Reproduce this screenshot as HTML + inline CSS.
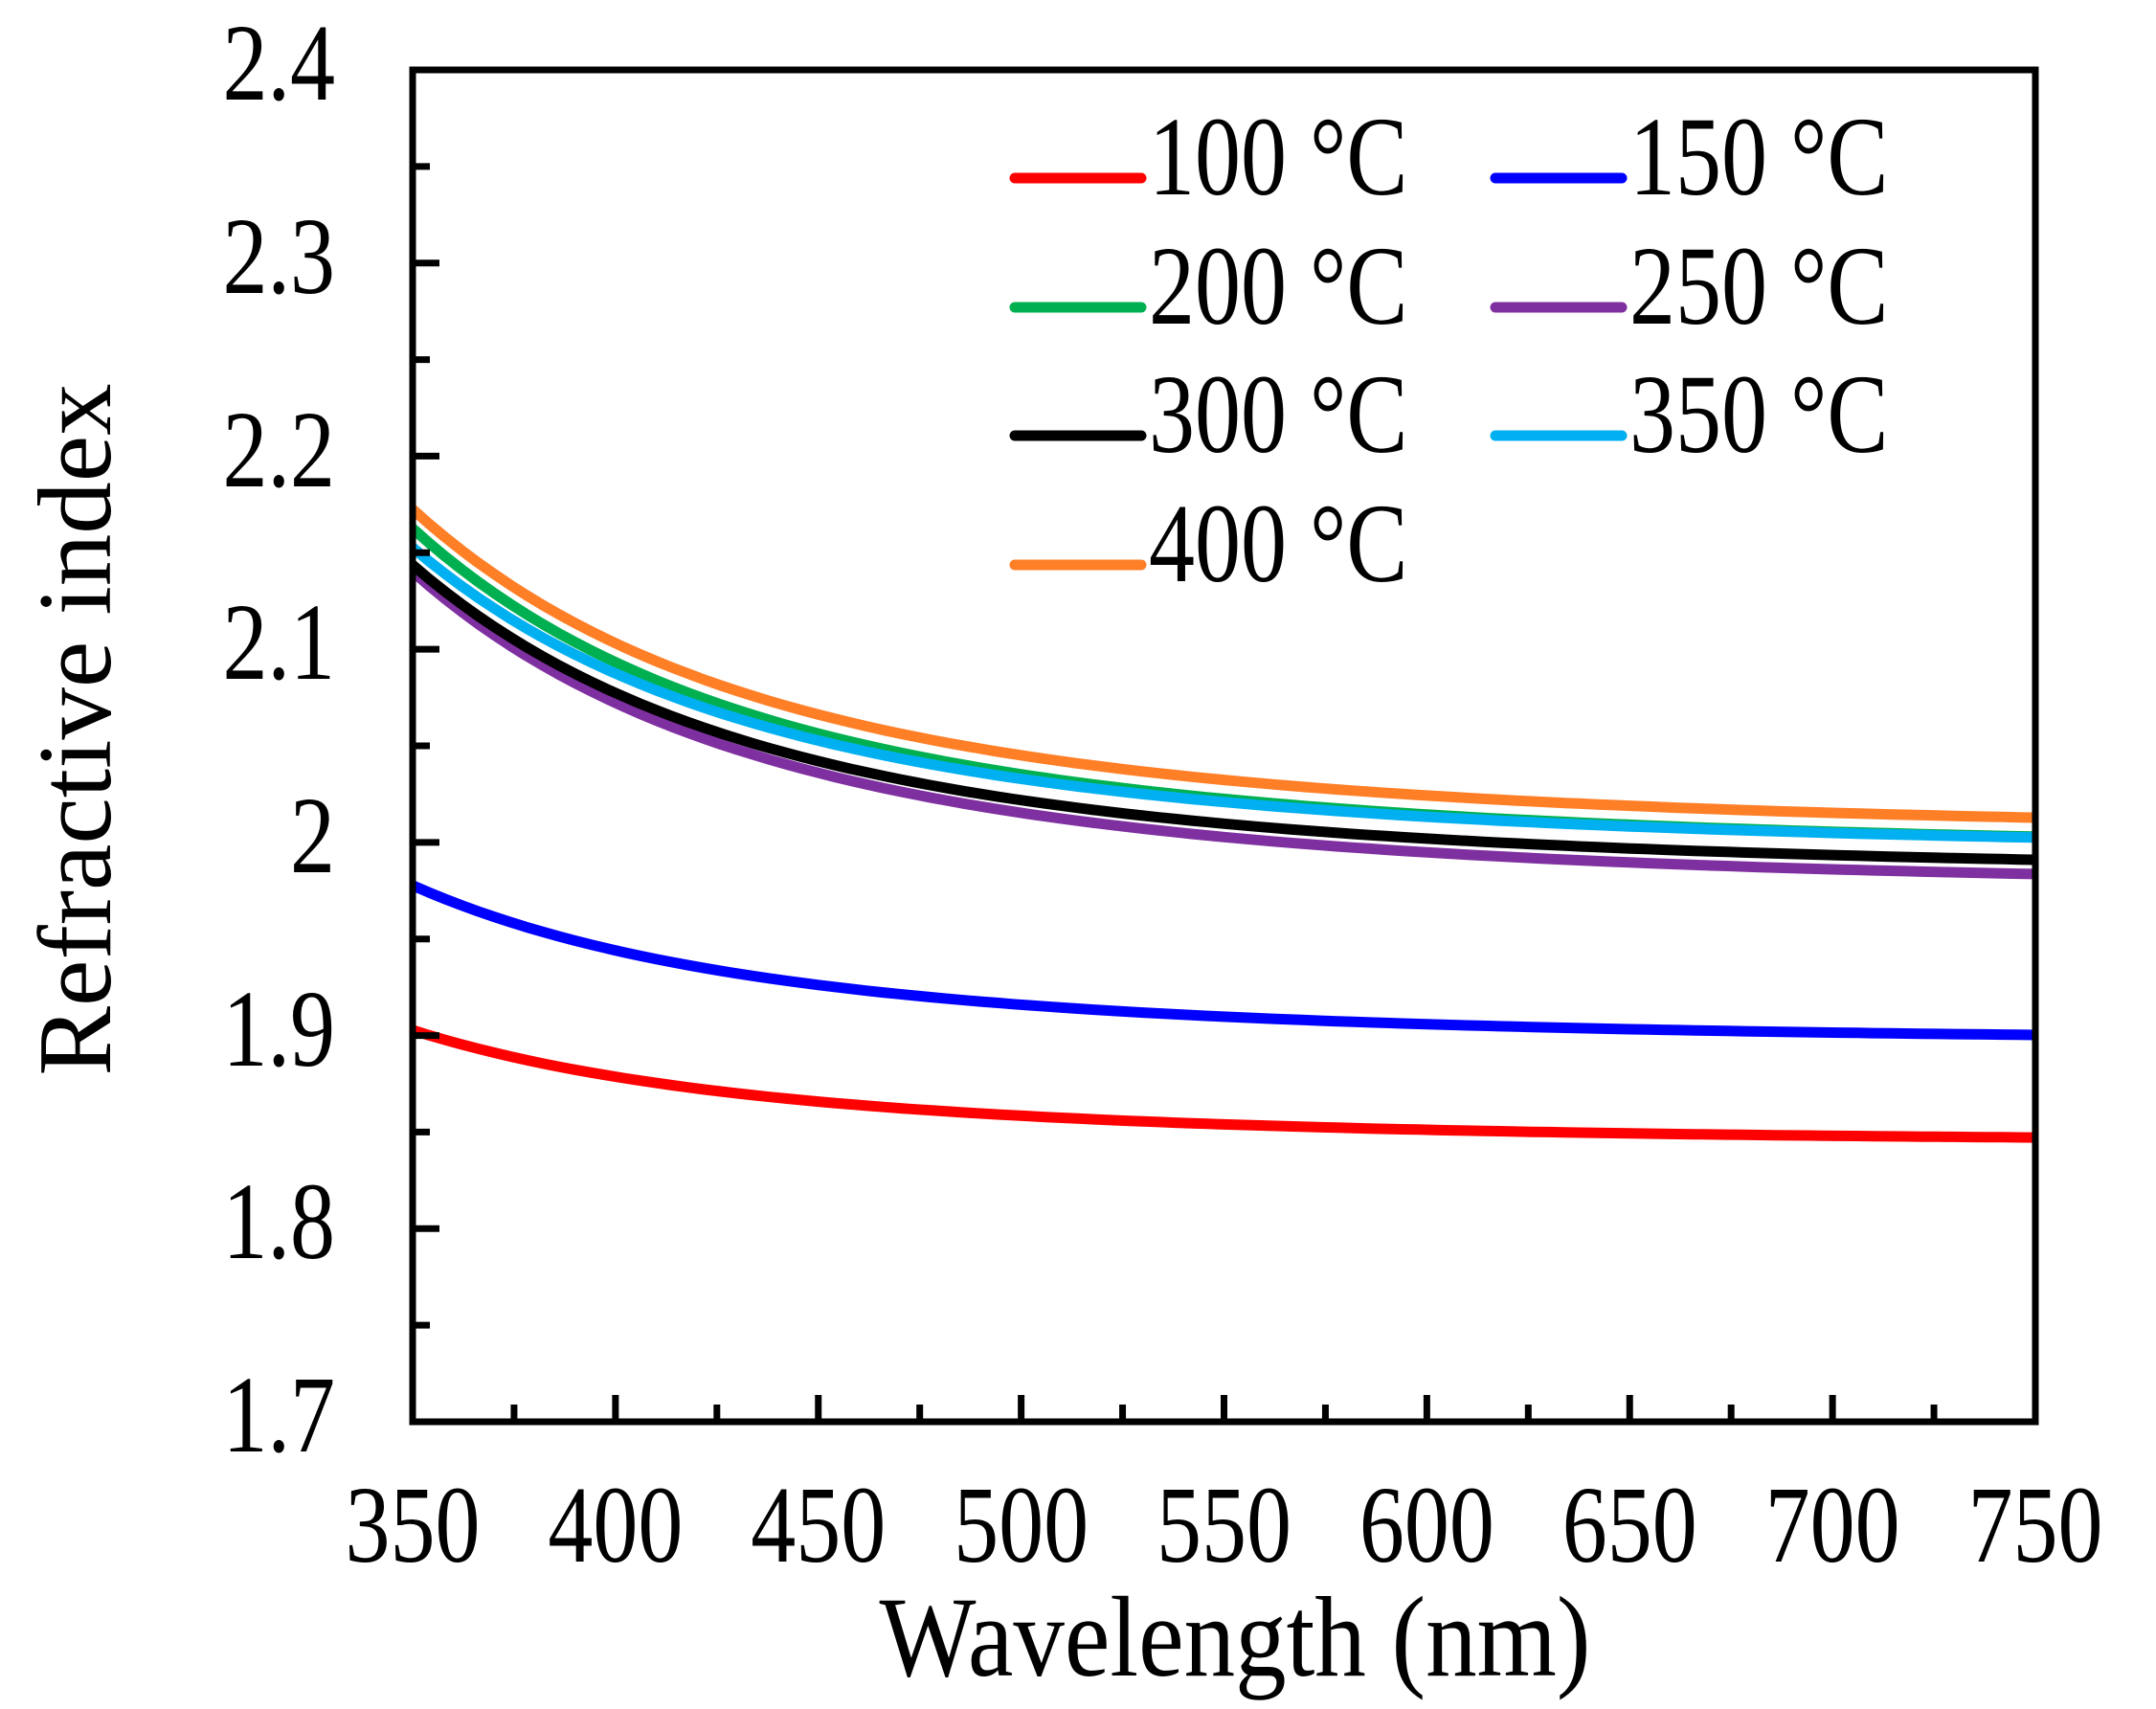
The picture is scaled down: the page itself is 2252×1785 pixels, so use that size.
<!DOCTYPE html>
<html><head><meta charset="utf-8">
<style>
html,body{margin:0;padding:0;background:#fff;}
svg{display:block;}
text{font-family:"Liberation Serif","Times New Roman",serif;fill:#000;}
</style></head>
<body>
<svg id="s" width="2252" height="1785" viewBox="0 0 2252 1785" xmlns="http://www.w3.org/2000/svg">
<g id="curves" fill="none" stroke-width="11" stroke-linejoin="round"></g>
<g id="ticks" stroke="#000" stroke-width="7"></g>
<rect x="431" y="73" width="1695" height="1412" fill="none" stroke="#000" stroke-width="7"/>
<g font-size="94" text-anchor="end">
<text transform="translate(350,104) scale(1,1.22)">2.4</text>
<text transform="translate(350,306) scale(1,1.22)">2.3</text>
<text transform="translate(350,508) scale(1,1.22)">2.2</text>
<text transform="translate(350,709) scale(1,1.22)">2.1</text>
<text transform="translate(350,911) scale(1,1.22)">2</text>
<text transform="translate(350,1113) scale(1,1.22)">1.9</text>
<text transform="translate(350,1314) scale(1,1.22)">1.8</text>
<text transform="translate(350,1516) scale(1,1.22)">1.7</text>
</g>
<g font-size="94" text-anchor="middle" id="xl"></g>
<text transform="translate(1290,1750) scale(1,1.12)" font-size="107" text-anchor="middle">Wavelength (nm)</text>
<text transform="translate(115,762) rotate(-90)" font-size="109" text-anchor="middle">Refractive index</text>
<g font-size="96" stroke-linecap="round" stroke-width="11">
<line x1="1060" y1="186" x2="1192" y2="186" stroke="#ff0000"/><text transform="translate(1200,203) scale(1,1.22)">100 °C</text>
<line x1="1562" y1="186" x2="1694" y2="186" stroke="#0000ff"/><text transform="translate(1702,203) scale(1,1.22)">150 °C</text>
<line x1="1060" y1="321" x2="1192" y2="321" stroke="#00b050"/><text transform="translate(1200,338) scale(1,1.22)">200 °C</text>
<line x1="1562" y1="321" x2="1694" y2="321" stroke="#7f30a0"/><text transform="translate(1702,338) scale(1,1.22)">250 °C</text>
<line x1="1060" y1="455" x2="1192" y2="455" stroke="#000000"/><text transform="translate(1200,472) scale(1,1.22)">300 °C</text>
<line x1="1562" y1="455" x2="1694" y2="455" stroke="#00b0f0"/><text transform="translate(1702,472) scale(1,1.22)">350 °C</text>
<line x1="1060" y1="590" x2="1192" y2="590" stroke="#ff7f27"/><text transform="translate(1200,607) scale(1,1.22)">400 °C</text>
</g>
</svg>
<script>
(function(){
var NS="http://www.w3.org/2000/svg";
function X(l){return 431+(l-350)/400*1695;}
function Y(n){return 1485-(n-1.7)/0.7*1412;}
var t=document.getElementById("ticks"),xl=document.getElementById("xl");
for(var l=375;l<750;l+=25){var L=document.createElementNS(NS,"line");var maj=(l%50==0);
L.setAttribute("x1",X(l));L.setAttribute("x2",X(l));L.setAttribute("y1",1485);L.setAttribute("y2",1485-(maj?28:18));t.appendChild(L);}
for(var l=350;l<=750;l+=50){var T=document.createElementNS(NS,"text");T.setAttribute("transform","translate("+X(l)+",1631) scale(1,1.22)");T.textContent=l;xl.appendChild(T);}
for(var i=1;i<14;i++){var n=1.7+i*0.05;var maj=(i%2==0);var L=document.createElementNS(NS,"line");
L.setAttribute("x1",431);L.setAttribute("x2",431+(maj?28:18));L.setAttribute("y1",Y(n));L.setAttribute("y2",Y(n));t.appendChild(L);}
var S=[["#ff0000",1.9028,1.8472],["#0000ff",1.9777,1.9003],["#7f30a0",2.1403,1.9836],["#000000",2.1437,1.9910],["#00b050",2.1626,2.0030],["#00b0f0",2.1527,2.0025],["#ff7f27",2.1725,2.0128]];
var g=document.getElementById("curves");
var a=Math.pow(350,-4),b=Math.pow(750,-4);
S.forEach(function(s){var B=(s[1]-s[2])/(a-b),A=s[2]-B*b;var d="";
for(var l=350;l<=750;l+=4){var n=A+B*Math.pow(l,-4);d+=(l==350?"M":"L")+X(l).toFixed(1)+" "+Y(n).toFixed(1);}
var p=document.createElementNS(NS,"path");p.setAttribute("d",d);p.setAttribute("stroke",s[0]);g.appendChild(p);});
})();
</script>
</body></html>
